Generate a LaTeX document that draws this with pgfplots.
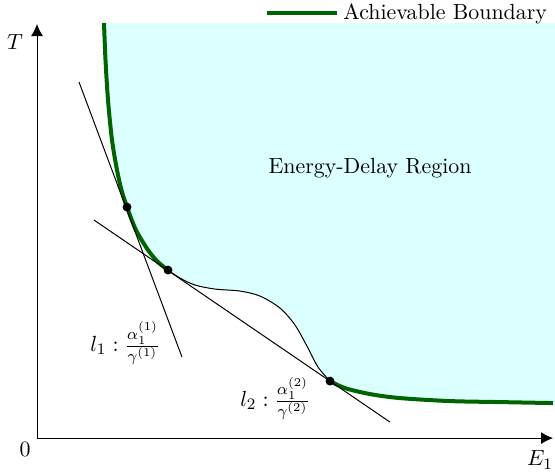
\documentclass[border=0pt]{standalone}
\usepackage{pgfplots}
\pgfplotsset{compat=1.18}
\usepgfplotslibrary{fillbetween}
\usetikzlibrary{arrows.meta}
\definecolor{regfill}{RGB}{220,255,255}
\definecolor{bgreen}{RGB}{0,100,0}
\begin{document}
\fontsize{10.95}{13}\selectfont
\begin{tikzpicture}[font=\fontsize{10.95}{13}\selectfont]
\begin{axis}[
  name=main,
  hide axis, scale only axis,
  width=277.5pt, height=237pt,
  xmin=0, xmax=555, ymin=0, ymax=474,
  clip=false,
  legend style={at={(axis cs:551,474)}, anchor=north east, draw=none, fill=none,
    inner sep=0pt, outer sep=0pt, font=\fontsize{10.95}{13}\selectfont},
  legend cell align=left,
  legend image code/.code={\draw[#1] (0pt,0pt) -- (35pt,0pt);},
]
% lower boundary for fill
\addplot[name path=low, draw=none, smooth, forget plot] coordinates {
(104,451) (105.5,414) (108,374) (112,334) (117,304) (121.5,284) (127,267) (136,244) (148,224) (158,212) (168,204)
(180,196) (195,189) (215,185) (240,183) (260,178) (280,166) (295,149) (308,126) (318,107) (330,93)
(345,86) (370,80) (400,76) (450,73) (500,72) (555,71)};
\addplot[name path=top, draw=none, forget plot] coordinates {(104,451) (555,451)};
\addplot[regfill, forget plot] fill between[of=low and top];
% axes
\draw[-{Latex[length=6pt,width=6pt]}, line width=0.5pt] (axis cs:37,36) -- (axis cs:553,36);
\draw[-{Latex[length=6pt,width=6pt]}, line width=0.5pt] (axis cs:37,36) -- (axis cs:37,450);
% achievable boundary
\addplot[bgreen, line width=2pt, smooth] coordinates {
(104,451) (105.5,414) (108,374) (112,334) (117,304) (121.5,284) (127,267) (136,244) (148,224) (158,212) (168,204)};
\addlegendentry{Achievable Boundary}
\addplot[bgreen, line width=2pt, smooth, forget plot] coordinates {
(330,93) (345,86) (370,80) (400,76) (450,73) (500,72) (553,71)};
% thin curve
\addplot[black, line width=0.5pt, smooth, forget plot] coordinates {
(168,204) (180,196) (195,189) (215,185) (240,183) (260,178) (280,166) (295,149) (308,126) (318,107) (330,93)};
% tangent lines
\addplot[black, line width=0.5pt, forget plot] coordinates {(79,392) (182,117)};
\addplot[black, line width=0.5pt, forget plot] coordinates {(94,254) (390,52)};
% points
\addplot[only marks, mark=*, mark size=2pt, black, forget plot] coordinates {(127,267) (168,204) (330,93)};
% labels
\node at (axis cs:25,25) {$0$};
\node at (axis cs:15,432) {$T$};
\node[inner sep=0pt] at (axis cs:540,14) {$E_1$};
\node at (axis cs:370,306) {Energy-Delay Region};
\node[anchor=west, inner sep=0pt] at (axis cs:90,131) {$l_1:\frac{\alpha_1^{(1)}}{\gamma^{(1)}}$};
\node[anchor=west, inner sep=0pt] at (axis cs:240,76) {$l_2:\frac{\alpha_1^{(2)}}{\gamma^{(2)}}$};
\end{axis}
\pgfresetboundingbox
\path[use as bounding box] (main.south west) rectangle (main.north east);
\end{tikzpicture}
\end{document}
